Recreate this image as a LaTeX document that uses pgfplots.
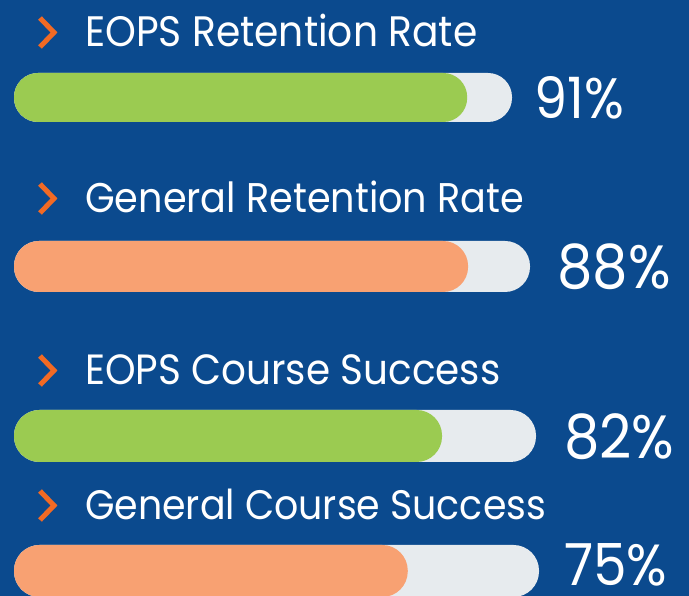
\documentclass[border=0pt]{standalone}
\usepackage{pgfplots}
\pgfplotsset{compat=1.18}
\usepackage{pgfplotstable}
\usepackage{fontspec}
\setmainfont{Poppins}[FakeStretch=0.92]
\definecolor{bg}{HTML}{0B4A8E}
\definecolor{track}{HTML}{E7EBEE}
\definecolor{fillgreen}{HTML}{9BCB51}
\definecolor{fillsalmon}{HTML}{F8A172}
\definecolor{chev}{HTML}{F26A24}
% y: bar centre (picture units from bottom), track: track length, pct: value, h: bar height
\pgfplotstableread{
y track pct h
498.5 498 91 49
}\barA
\pgfplotstableread{
y track pct h
329.5 516 88 51
}\barB
\pgfplotstableread{
y track pct h
160 522 82 52
}\barC
\pgfplotstableread{
y track pct h
25 525 75 52
}\barD
\newcommand{\lbl}[3]{%
  \draw[chev, line width=5pt, line cap=butt, line join=miter] (40,#1+29) -- (54,#1+14.5) -- (40,#1);
  \node[anchor=base west, inner sep=0pt, text=white, font=\fontsize{#3}{#3}\selectfont] at (85,#1) {#2};}
\begin{document}
\begin{tikzpicture}[x=1pt,y=1pt]
\path[use as bounding box, fill=bg] (0,0) rectangle (689,596);
\begin{axis}[scale only axis, hide axis, width=689pt, height=596pt,
  xmin=-14, xmax=675, ymin=0, ymax=596, clip=false,
  at={(0pt,0pt)}, anchor=south west]
\addplot[xbar, bar width=49, bar shift=0, fill=track, draw=none, rounded corners=24pt] table[x=track, y=y] {\barA};
\addplot[xbar, bar width=49, bar shift=0, fill=fillgreen, draw=none, rounded corners=24pt] table[x expr=\thisrow{track}*\thisrow{pct}/100, y=y] {\barA};
\addplot[xbar, bar width=51, bar shift=0, fill=track, draw=none, rounded corners=25pt] table[x=track, y=y] {\barB};
\addplot[xbar, bar width=51, bar shift=0, fill=fillsalmon, draw=none, rounded corners=25pt] table[x expr=\thisrow{track}*\thisrow{pct}/100, y=y] {\barB};
\addplot[xbar, bar width=52, bar shift=0, fill=track, draw=none, rounded corners=25.5pt] table[x=track, y=y] {\barC};
\addplot[xbar, bar width=52, bar shift=0, fill=fillgreen, draw=none, rounded corners=25.5pt] table[x expr=\thisrow{track}*\thisrow{pct}/100, y=y] {\barC};
\addplot[xbar, bar width=52, bar shift=0, fill=track, draw=none, rounded corners=25.5pt] table[x=track, y=y] {\barD};
\addplot[xbar, bar width=52, bar shift=0, fill=fillsalmon, draw=none, rounded corners=25.5pt] table[x expr=\thisrow{track}*\thisrow{pct}/100, y=y] {\barD};
\node[anchor=west, inner sep=0pt, text=white, font=\fontsize{57}{60}\selectfont] at (axis cs:520,498) {91\%};
\node[anchor=west, inner sep=0pt, text=white, font=\fontsize{61}{64}\selectfont] at (axis cs:543,329) {88\%};
\node[anchor=west, inner sep=0pt, text=white, font=\fontsize{61}{64}\selectfont] at (axis cs:550,159) {82\%};
\node[anchor=west, inner sep=0pt, text=white, font=\fontsize{58}{60}\selectfont] at (axis cs:550,31) {75\%};
\end{axis}
\lbl{549}{EOPS Retention Rate}{42.6}
\lbl{383}{General Retention Rate}{41.5}
\lbl{211}{EOPS Course Success}{42.3}
\lbl{76}{General Course Success}{41.2}
\end{tikzpicture}
\end{document}
